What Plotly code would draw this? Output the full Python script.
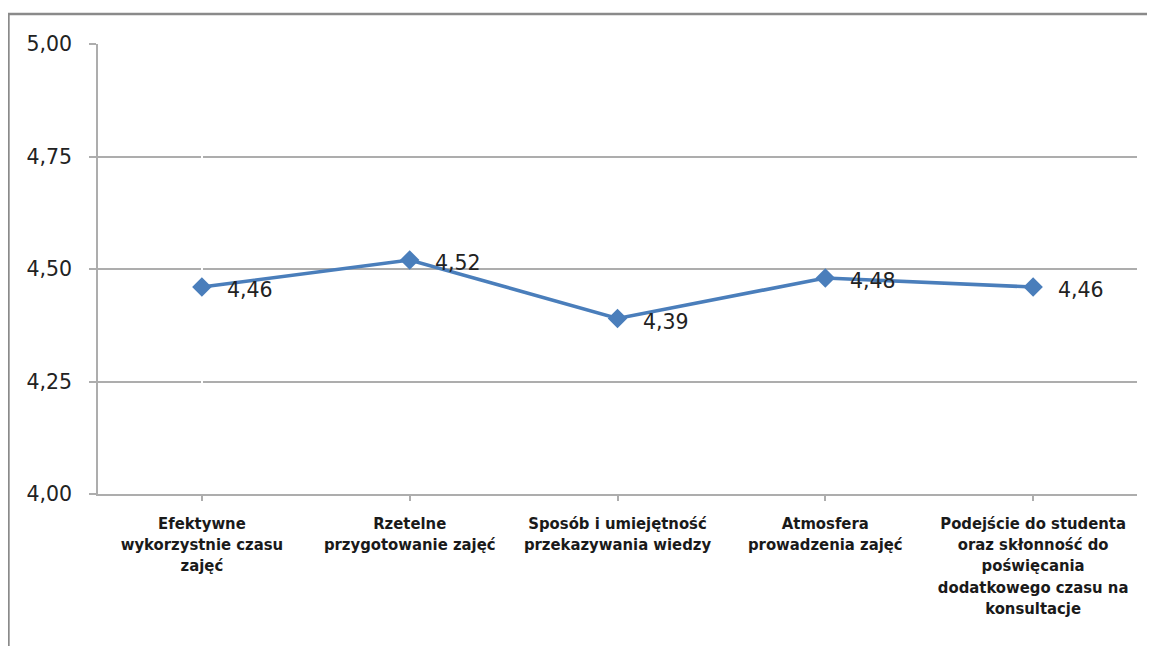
import plotly.graph_objects as go

categories = [
    "Efektywne<br>wykorzystnie czasu<br>zajęć",
    "Rzetelne<br>przygotowanie zajęć",
    "Sposób i umiejętność<br>przekazywania wiedzy",
    "Atmosfera<br>prowadzenia zajęć",
    "Podejście do studenta<br>oraz skłonność do<br>poświęcania<br>dodatkowego czasu na<br>konsultacje",
]
values = [4.46, 4.52, 4.39, 4.48, 4.46]
y_ticks = [4.00, 4.25, 4.50, 4.75, 5.00]

LINE = "#4A7EBB"
GRID = "#ADADAD"

fig = go.Figure()
fig.add_trace(go.Scatter(
    x=list(range(len(categories))), y=values,
    mode="lines+markers",
    line=dict(color=LINE, width=3.6),
    marker=dict(symbol="diamond", size=15, color=LINE),
    hoverinfo="skip",
))

for i, v in enumerate(values):
    fig.add_annotation(
        x=i, y=v, text=f"{v:.2f}".replace(".", ","),
        xanchor="left", yanchor="middle", xshift=23, yshift=-3,
        showarrow=False,
        font=dict(family="DejaVu Sans", size=20.5, color="#222222"),
    )

# outer frame
fig.add_shape(type="rect", xref="paper", yref="paper",
              x0=-0.0862, x1=1.03, y0=-0.40, y1=1.0667,
              line=dict(color="#8A8A8A", width=2.5), layer="below")

fig.update_layout(
    width=1155, height=646,
    margin=dict(l=90, r=26, t=36, b=160),
    paper_bgcolor="white", plot_bgcolor="white",
    separators=",.",
    showlegend=False,
    xaxis=dict(
        range=[-0.5, 4.5],
        tickmode="array",
        tickvals=list(range(len(categories))),
        ticktext=categories,
        tickson="boundaries",
        ticks="outside", ticklen=5, tickcolor=GRID, tickwidth=1.5,
        showgrid=False,
        showline=True, linecolor=GRID, linewidth=1.5,
        tickfont=dict(family="DejaVu Sans Condensed, Liberation Sans, sans-serif",
                      size=16.5, color="#1a1a1a", weight="bold"),
        ticklabelstandoff=8,
        tickangle=0,
        fixedrange=True,
    ),
    yaxis=dict(
        range=[4, 5],
        tickmode="array",
        tickvals=y_ticks,
        ticktext=[f"{t:.2f}".replace(".", ",") for t in y_ticks],
        ticks="outside", ticklen=7, tickcolor=GRID, tickwidth=1.5,
        showgrid=True, gridcolor=GRID, gridwidth=1.5,
        showline=True, linecolor=GRID, linewidth=1.5,
        zeroline=False,
        tickfont=dict(family="DejaVu Sans", size=20.5, color="#222222"),
        ticklabelstandoff=13,
        fixedrange=True,
    ),
)

fig.write_html("out.html")
